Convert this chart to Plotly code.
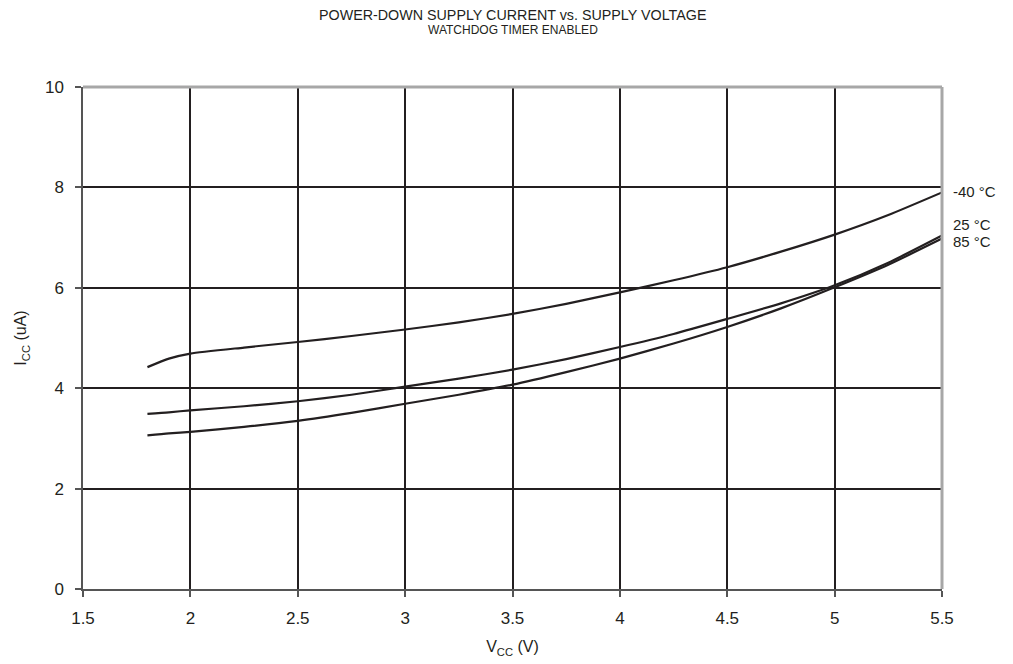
import plotly.graph_objects as go

vcc = [1.8, 1.9, 2.0, 2.25, 2.5, 2.75, 3.0, 3.25, 3.5, 3.75, 4.0, 4.25, 4.5, 4.75, 5.0, 5.25, 5.5]
icc_m40 = [4.42, 4.59, 4.69, 4.81, 4.92, 5.04, 5.17, 5.31, 5.48, 5.68, 5.91, 6.15, 6.41, 6.72, 7.06, 7.45, 7.90]
icc_25 = [3.49, 3.52, 3.56, 3.64, 3.74, 3.87, 4.03, 4.19, 4.37, 4.58, 4.82, 5.08, 5.38, 5.69, 6.05, 6.50, 7.04]
icc_85 = [3.06, 3.10, 3.13, 3.23, 3.35, 3.51, 3.69, 3.87, 4.07, 4.32, 4.59, 4.89, 5.22, 5.59, 6.01, 6.46, 6.98]
series_names = ["-40 °C", "25 °C", "85 °C"]
label_y = [7.92, 7.26, 6.92]

x_ticks = [1.5, 2, 2.5, 3, 3.5, 4, 4.5, 5, 5.5]
x_tick_text = ["1.5", "2", "2.5", "3", "3.5", "4", "4.5", "5", "5.5"]
y_ticks = [0, 2, 4, 6, 8, 10]

FONT = "Liberation Sans, Arial, Helvetica, sans-serif"
INK = "#231f20"

fig = go.Figure()
for name, ys in zip(series_names, [icc_m40, icc_25, icc_85]):
    fig.add_trace(go.Scatter(x=vcc, y=ys, mode="lines", name=name,
                             line=dict(color=INK, width=2.2, shape="spline", smoothing=0.6),
                             showlegend=False, cliponaxis=False))

for name, ly in zip(series_names, label_y):
    fig.add_annotation(x=1.0, xref="paper", y=ly, yref="y", text=name, showarrow=False,
                       xanchor="left", xshift=9, font=dict(family=FONT, size=15, color=INK))

fig.add_annotation(x=0.5, xref="paper", y=1, yref="paper", yshift=72,
                   text="POWER-DOWN SUPPLY CURRENT vs. SUPPLY VOLTAGE", showarrow=False,
                   font=dict(family=FONT, size=14.3, color=INK), yanchor="middle")
fig.add_annotation(x=0.5, xref="paper", y=1, yref="paper", yshift=57,
                   text="WATCHDOG TIMER ENABLED", showarrow=False,
                   font=dict(family=FONT, size=12, color=INK), yanchor="middle")

fig.update_layout(
    width=1013, height=664,
    margin=dict(l=71, r=79, t=79, b=83),
    paper_bgcolor="white", plot_bgcolor="white",
    font=dict(family=FONT, color=INK),
    xaxis=dict(range=[1.5, 5.5], tickvals=x_ticks, ticktext=x_tick_text,
               showgrid=True, gridcolor=INK, gridwidth=2,
               showline=True, linecolor="#555555", linewidth=1.5,
               ticks="outside", ticklen=6, tickcolor="#555555", tickwidth=1.5,
               ticklabelstandoff=7,
               tickfont=dict(size=17, family=FONT, color=INK), zeroline=False,
               title=dict(text="V<sub>CC</sub> (V)", font=dict(size=16, family=FONT, color=INK), standoff=14)),
    yaxis=dict(range=[0, 10], tickvals=y_ticks,
               showgrid=True, gridcolor=INK, gridwidth=2,
               showline=True, linecolor="#555555", linewidth=1.5,
               ticks="outside", ticklen=6, tickcolor="#555555", tickwidth=1.5,
               ticklabelstandoff=8,
               tickfont=dict(size=17, family=FONT, color=INK), zeroline=False,
               title=dict(text="I<sub>CC</sub> (uA)", font=dict(size=16, family=FONT, color=INK), standoff=14)),
    shapes=[
        dict(type="line", xref="paper", yref="paper", x0=0, x1=1, y0=1, y1=1,
             line=dict(color="#a7a7a7", width=3)),
        dict(type="line", xref="paper", yref="paper", x0=1, x1=1, y0=0, y1=1,
             line=dict(color="#a7a7a7", width=3)),
    ],
)

fig.write_html("out.html")
